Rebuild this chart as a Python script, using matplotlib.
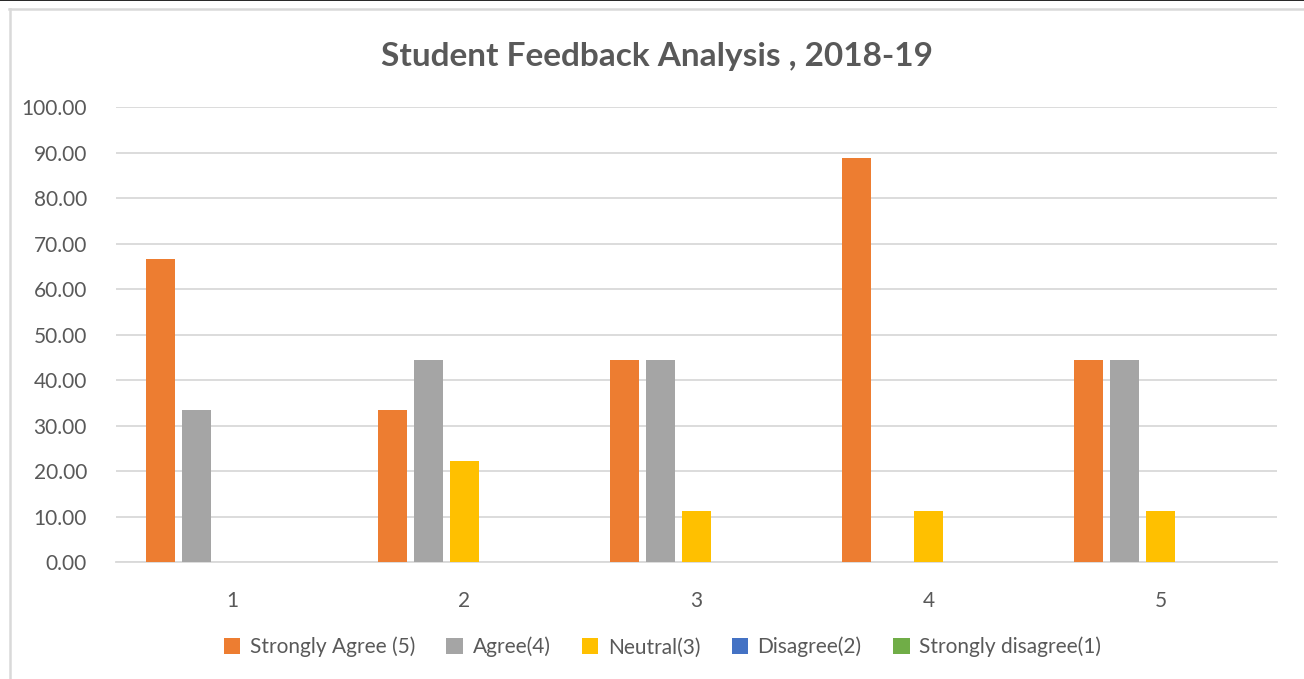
import numpy as np
import matplotlib
matplotlib.use("Agg")
import matplotlib.pyplot as plt
from matplotlib.lines import Line2D

categories = ["1", "2", "3", "4", "5"]
series_names = ["Strongly Agree (5)", "Agree(4)", "Neutral(3)",
                "Disagree(2)", "Strongly disagree(1)"]
strongly_agree = [66.67, 33.33, 44.44, 88.89, 44.44]
agree = [33.33, 44.44, 44.44, 0.0, 44.44]
neutral = [0.0, 22.22, 11.11, 11.11, 11.11]
disagree = [0.0, 0.0, 0.0, 0.0, 0.0]
strongly_disagree = [0.0, 0.0, 0.0, 0.0, 0.0]
colors = ["#ED7D31", "#A5A5A5", "#FFC000", "#4472C4", "#70AD47"]

txt = "#595959"
plt.rcParams['font.family'] = ['Lato', 'DejaVu Sans']

fig = plt.figure(figsize=(13.04, 6.79), dpi=100)
ax = fig.add_axes([0.089, 0.1723, 0.890, 0.670])

x = np.arange(len(categories))
pitch = 0.155
width = 0.125
all_series = [strongly_agree, agree, neutral, disagree, strongly_disagree]
for i, (vals, name, c) in enumerate(zip(all_series, series_names, colors)):
    ax.bar(x + (i - 2) * pitch, vals, width=width, color=c, label=name, zorder=3)

ax.set_xlim(-0.5, len(categories) - 0.5)
ax.set_ylim(0, 100)
ax.set_yticks(np.arange(0, 101, 10))
ax.set_yticklabels(["%.2f" % v for v in np.arange(0, 101, 10)])
ax.set_xticks(x)
ax.set_xticklabels(categories)
ax.yaxis.grid(True, color="#D9D9D9", linewidth=1.3, zorder=0)
for s in ["top", "right", "left"]:
    ax.spines[s].set_visible(False)
ax.spines["bottom"].set_color("#D9D9D9")
ax.spines["bottom"].set_linewidth(1.3)
ax.tick_params(axis="both", length=0, labelsize=15, colors=txt)
ax.tick_params(axis="x", pad=21)
ax.tick_params(axis="y", pad=21)

fig.text(0.504, 0.917, "Student Feedback Analysis , 2018-19", ha="center",
         va="center", fontsize=24, fontweight="bold", color=txt)

fig.legend(loc="center", bbox_to_anchor=(0.508, 0.047), ncol=5, frameon=False,
           fontsize=15, labelcolor=txt, handlelength=0.8, handleheight=0.8,
           handletextpad=0.45, columnspacing=1.5)

# chart border
fig.add_artist(Line2D([0, 1], [0.9995, 0.9995], color="black", linewidth=1.2))
fig.add_artist(Line2D([9 / 1304, 1.0], [1 - 9 / 679, 1 - 9 / 679],
                      color="#D9D9D9", linewidth=1.8))
fig.add_artist(Line2D([10 / 1304, 10 / 1304], [0, 1 - 9 / 679],
                      color="#D9D9D9", linewidth=1.8))

fig.savefig("out.png", dpi=100)
